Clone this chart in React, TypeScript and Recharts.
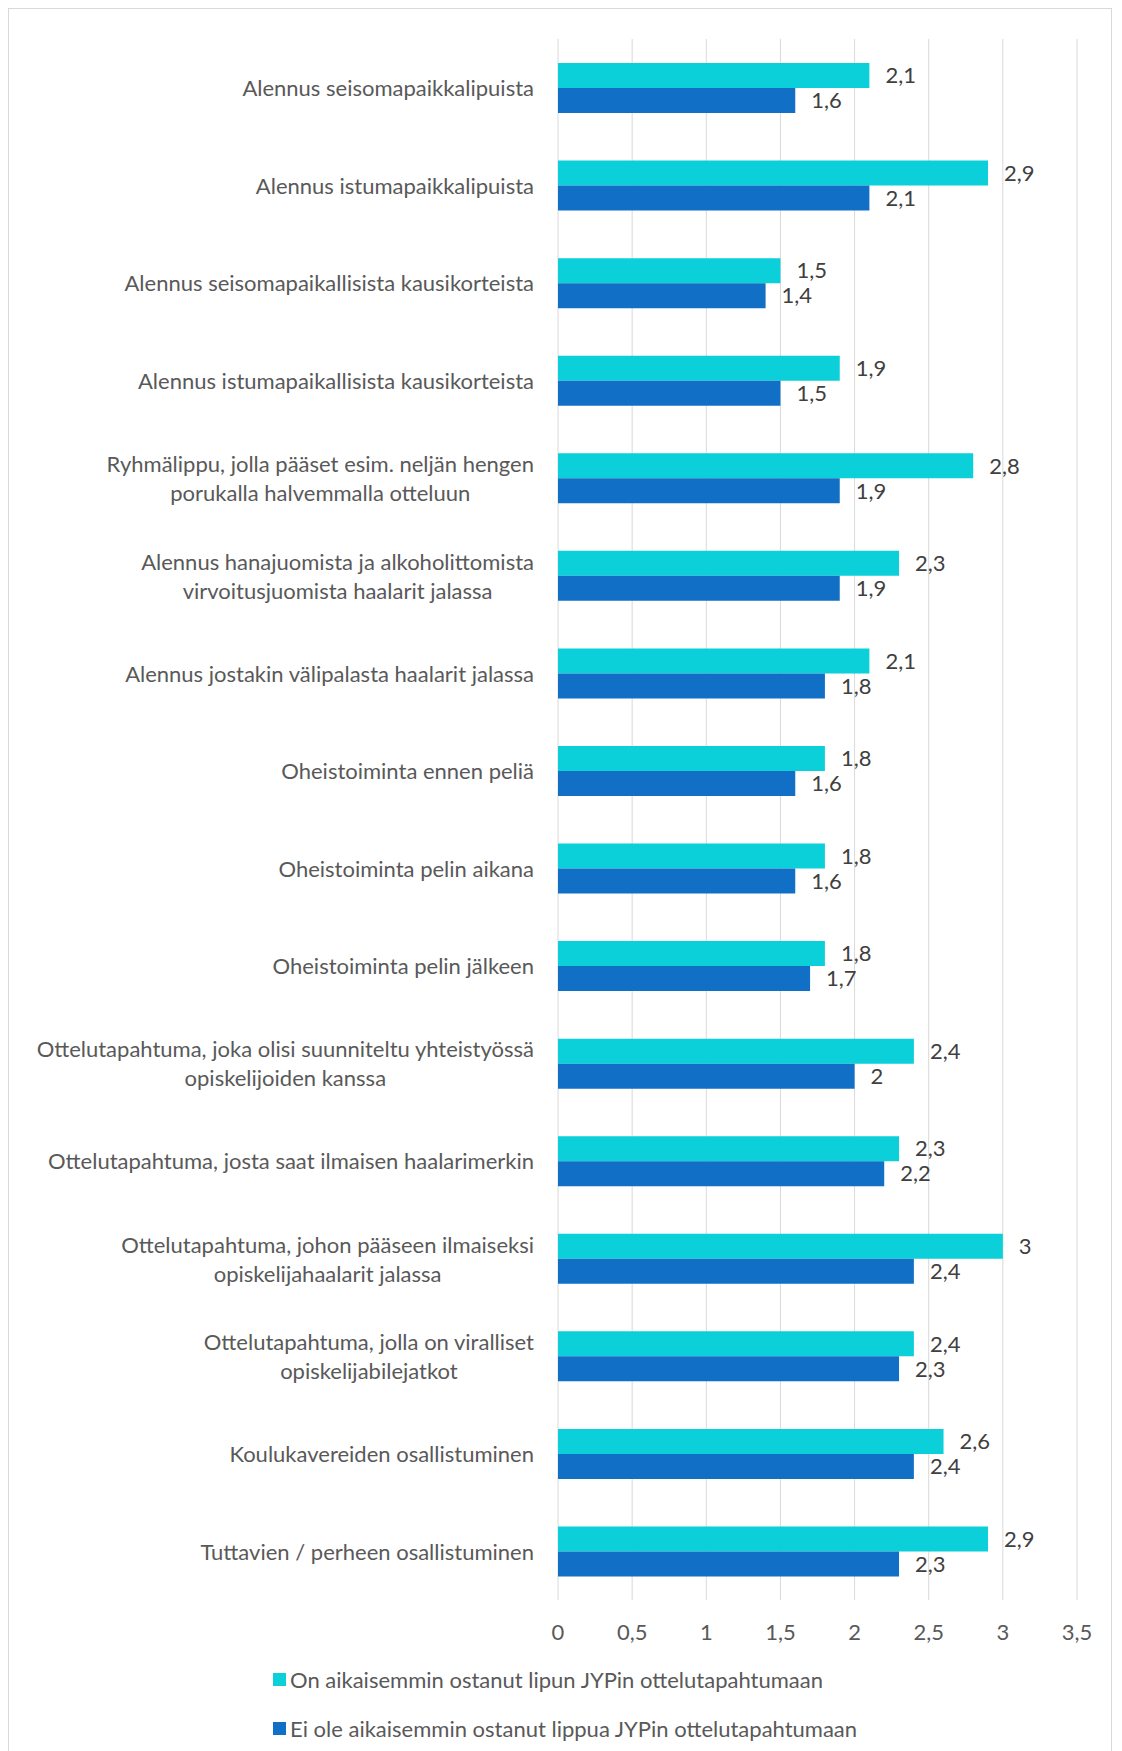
import React from "react";
import {
  Bar,
  BarChart,
  CartesianGrid,
  LabelList,
  Legend,
  XAxis,
  YAxis,
} from "recharts";

const categories = [
  "Alennus seisomapaikkalipuista",
  "Alennus istumapaikkalipuista",
  "Alennus seisomapaikallisista kausikorteista",
  "Alennus istumapaikallisista kausikorteista",
  "Ryhmälippu, jolla pääset esim. neljän hengen\nporukalla halvemmalla otteluun",
  "Alennus hanajuomista ja alkoholittomista\nvirvoitusjuomista haalarit jalassa",
  "Alennus jostakin välipalasta haalarit jalassa",
  "Oheistoiminta ennen peliä",
  "Oheistoiminta pelin aikana",
  "Oheistoiminta pelin jälkeen",
  "Ottelutapahtuma, joka olisi suunniteltu yhteistyössä\nopiskelijoiden kanssa",
  "Ottelutapahtuma, josta saat ilmaisen haalarimerkin",
  "Ottelutapahtuma, johon pääseen ilmaiseksi\nopiskelijahaalarit jalassa",
  "Ottelutapahtuma, jolla on viralliset\nopiskelijabilejatkot",
  "Koulukavereiden osallistuminen",
  "Tuttavien / perheen osallistuminen",
];

const boughtBefore = [2.1, 2.9, 1.5, 1.9, 2.8, 2.3, 2.1, 1.8, 1.8, 1.8, 2.4, 2.3, 3, 2.4, 2.6, 2.9];
const notBoughtBefore = [1.6, 2.1, 1.4, 1.5, 1.9, 1.9, 1.8, 1.6, 1.6, 1.7, 2, 2.2, 2.4, 2.3, 2.4, 2.3];

const xTicks = [0, 0.5, 1, 1.5, 2, 2.5, 3, 3.5];

const seriesNames = {
  bought: "On aikaisemmin ostanut lipun JYPin ottelutapahtumaan",
  notBought: "Ei ole aikaisemmin ostanut lippua JYPin ottelutapahtumaan",
};

const CYAN = "#0BCFD9";
const BLUE = "#1170C6";
const TEXT = "#595959";
const FS = 22;

const data = categories.map((name, i) => ({
  name,
  bought: boughtBefore[i],
  notBought: notBoughtBefore[i],
}));

const fmt = (v: number | string) => String(v).replace(".", ",");

// Excel-style wrapped label: block right-aligned, lines centred within it
function CategoryTick({ x, y, payload }: { x: number; y: number; payload: { value: string } }) {
  const lines = String(payload.value).split("\n");
  const w = 530;
  return (
    <foreignObject x={x - 24 - w} y={y - 40} width={w} height={80}>
      <div
        style={{
          display: "flex",
          height: "100%",
          alignItems: "center",
          justifyContent: "flex-end",
        }}
      >
        <div style={{ textAlign: "center", lineHeight: "29px", fontSize: FS, color: TEXT, whiteSpace: "nowrap" }}>
          {lines.map((l) => (
            <div key={l}>{l}</div>
          ))}
        </div>
      </div>
    </foreignObject>
  );
}

function LegendBox() {
  const items = [
    { label: seriesNames.bought, color: CYAN },
    { label: seriesNames.notBought, color: BLUE },
  ];
  return (
    <div style={{ paddingTop: 5 }}>
      {items.map((it, i) => (
        <div
          key={it.label}
          style={{
            display: "flex",
            alignItems: "center",
            height: 28,
            marginTop: i === 0 ? 0 : 21,
            fontSize: FS,
            color: TEXT,
            whiteSpace: "nowrap",
          }}
        >
          <span style={{ width: 13, height: 13, background: it.color, marginRight: 4, display: "inline-block" }} />
          <span>{it.label}</span>
        </div>
      ))}
    </div>
  );
}

export default function App() {
  return (
    <div
      style={{
        width: 1102,
        height: 1742,
        border: "1px solid #d9d9d9",
        fontFamily: "Lato, 'Open Sans', sans-serif",
        background: "#fff",
      }}
    >
      <BarChart
        width={1102}
        height={1742}
        data={data}
        layout="vertical"
        margin={{ top: 30, right: 34, left: 0, bottom: 0 }}
        barGap={0}
        barSize={25}
      >
        <CartesianGrid stroke="#d9d9d9" horizontal={false} />
        <XAxis
          type="number"
          domain={[0, 3.5]}
          ticks={xTicks}
          tickFormatter={fmt}
          axisLine={false}
          tickLine={false}
          height={60}
          tick={{ fill: TEXT, fontSize: FS }}
          tickMargin={18}
        />
        <YAxis
          type="category"
          dataKey="name"
          width={549}
          axisLine={false}
          tickLine={false}
          tickSize={0}
          tickMargin={0}
          interval={0}
          tick={(p: any) => <CategoryTick {...p} />}
        />
        <Legend
          verticalAlign="bottom"
          align="left"
          height={91}
          wrapperStyle={{ left: 264 }}
          content={() => <LegendBox />}
        />
        <Bar dataKey="bought" name={seriesNames.bought} fill={CYAN} isAnimationActive={false}>
          <LabelList dataKey="bought" position="right" offset={16} formatter={fmt} fill="#404040" fontSize={FS} />
        </Bar>
        <Bar dataKey="notBought" name={seriesNames.notBought} fill={BLUE} isAnimationActive={false}>
          <LabelList dataKey="notBought" position="right" offset={16} formatter={fmt} fill="#404040" fontSize={FS} />
        </Bar>
      </BarChart>
    </div>
  );
}
